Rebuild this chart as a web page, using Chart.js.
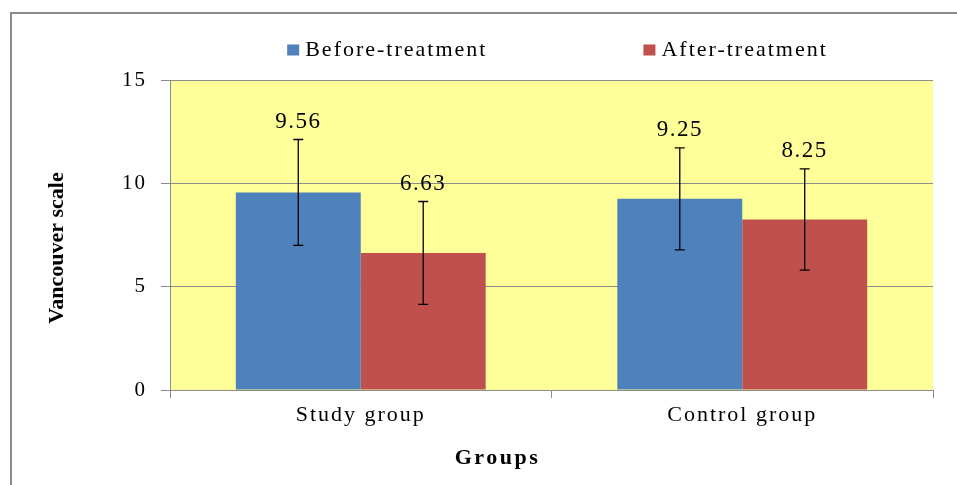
<!DOCTYPE html>
<html>
<head>
<meta charset="utf-8">
<title>Vancouver scale</title>
<script src="https://cdn.jsdelivr.net/npm/chart.js@4.4.0/dist/chart.umd.min.js"></script>
<style>
    body { margin: 0; background: #ffffff; }
    canvas { display: block; }
</style>
</head>
<body>
<canvas id="myChart" width="957" height="485"></canvas>
<script>
var groups = ["Study group", "Control group"];
var before_values = [9.56, 9.25];
var after_values = [6.63, 8.25];
var before_sd = [2.56, 2.47];
var after_sd = [2.49, 2.45];
var y_ticks = [0, 5, 10, 15];
var x_title = "Groups";
var y_title = "Vancouver scale";

var serif = "'Liberation Serif', 'Times New Roman', serif";


// YELLOW PLOT AREA + OUTER FRAME
var backgroundPlugin = {
    id: 'background',
    beforeDraw: function(chart) {
        var ctx = chart.ctx;
        var area = chart.chartArea;
        ctx.save();
        ctx.fillStyle = '#ffffff';
        ctx.fillRect(0, 0, chart.width, chart.height);
        ctx.fillStyle = '#ffff99';
        ctx.fillRect(area.left, area.top, area.right - area.left, area.bottom - area.top);
        ctx.strokeStyle = '#8c8c8c';
        ctx.lineWidth = 2;
        ctx.strokeRect(11, 13, chart.width + 20, chart.height + 20);
        ctx.restore();
        // the original text is a bit wide, spread the tick labels
        ctx.letterSpacing = '2px';
    }
};


// ERROR BARS, VALUE LABELS, AXIS TITLES AND LEGEND
var extrasPlugin = {
    id: 'extras',
    afterDatasetsDraw: function(chart) {
        var ctx = chart.ctx;
        var yScale = chart.scales.y;
        var area = chart.chartArea;
        var sds = [before_sd, after_sd];

        ctx.save();
        chart.data.datasets.forEach(function(ds, i) {
            var meta = chart.getDatasetMeta(i);
            meta.data.forEach(function(bar, j) {
                var value = ds.data[j];
                var top = yScale.getPixelForValue(value + sds[i][j]);
                var bottom = yScale.getPixelForValue(value - sds[i][j]);

                ctx.strokeStyle = '#000000';
                ctx.lineWidth = 1.3;
                ctx.beginPath();
                ctx.moveTo(bar.x, top);
                ctx.lineTo(bar.x, bottom);
                ctx.moveTo(bar.x - 5, top);
                ctx.lineTo(bar.x + 5, top);
                ctx.moveTo(bar.x - 5, bottom);
                ctx.lineTo(bar.x + 5, bottom);
                ctx.stroke();

                ctx.fillStyle = '#000000';
                ctx.font = "23px " + serif;
                ctx.letterSpacing = '1.5px';
                ctx.textAlign = 'center';
                ctx.textBaseline = 'middle';
                ctx.fillText(value.toFixed(2), bar.x, top - 18);
            });
        });

        // axis titles
        ctx.fillStyle = '#000000';
        ctx.textAlign = 'center';
        ctx.textBaseline = 'middle';
        ctx.font = "bold 22px " + serif;
        ctx.letterSpacing = '2.5px';
        ctx.fillText(x_title, (area.left + area.right) / 2 - 54, chart.height - 27);

        ctx.save();
        ctx.letterSpacing = '0px';
        ctx.translate(57, (area.top + area.bottom) / 2 + 13);
        ctx.rotate(-Math.PI / 2);
        ctx.fillText(y_title, 0, 0);
        ctx.restore();

        // legend, centred over the plot area
        var boxW = 12;
        var boxH = 11;
        var gap = 156;
        ctx.font = "22px " + serif;
        ctx.letterSpacing = '2px';
        var widths = chart.data.datasets.map(function(ds) {
            return boxW + 6 + ctx.measureText(ds.label).width;
        });
        var total = widths[0] + gap + widths[1];
        var x = (area.left + area.right) / 2 + 6 - total / 2;
        var y = 50;
        chart.data.datasets.forEach(function(ds, i) {
            ctx.fillStyle = ds.backgroundColor;
            ctx.fillRect(x, y - boxH / 2, boxW, boxH);
            ctx.fillStyle = '#000000';
            ctx.textAlign = 'left';
            ctx.textBaseline = 'middle';
            ctx.fillText(ds.label, x + boxW + 6, y);
            x += widths[i] + gap;
        });
        ctx.restore();
    }
};


var ctx = document.getElementById('myChart').getContext('2d');

var myChart = new Chart(ctx, {
    type: 'bar',
    data: {
        labels: groups,
        datasets: [
        {
            label: "Before-treatment",
            data: before_values,
            backgroundColor: '#4f81bd',
            categoryPercentage: 0.655,
            barPercentage: 1.0
        },
        {
            label: "After-treatment",
            data: after_values,
            backgroundColor: '#c0504d',
            categoryPercentage: 0.655,
            barPercentage: 1.0
        }]
    },
    options: {
        responsive: false,
        animation: false,
        devicePixelRatio: 1,
        layout: {
            padding: { top: 80, right: 24, bottom: 0, left: 0 }
        },
        plugins: {
            legend: { display: false },
            tooltip: { enabled: false }
        },
        scales: {
            x: {
                offset: true,
                grid: {
                    drawOnChartArea: false,
                    drawTicks: true,
                    tickLength: 8,
                    tickColor: '#8c8c8c',
                    offset: true
                },
                border: { color: '#8c8c8c', width: 1 },
                ticks: {
                    color: '#000000',
                    padding: 4,
                    font: { family: serif, size: 22 }
                },
                afterFit: function(scale) {
                    scale.height = 95;
                }
            },
            y: {
                min: 0,
                max: 15,
                afterBuildTicks: function(scale) {
                    scale.ticks = y_ticks.map(function(v) { return { value: v }; });
                },
                grid: {
                    color: '#8c8c8c',
                    tickLength: 9,
                    tickColor: '#8c8c8c'
                },
                border: { color: '#8c8c8c', width: 1 },
                ticks: {
                    color: '#000000',
                    padding: 14,
                    font: { family: serif, size: 21 }
                },
                afterFit: function(scale) {
                    scale.width = 170;
                }
            }
        }
    },
    plugins: [backgroundPlugin, extrasPlugin]
});
</script>
</body>
</html>
